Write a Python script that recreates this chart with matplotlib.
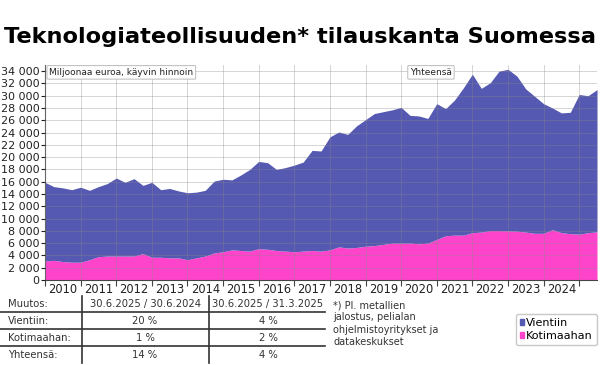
import numpy as np
import matplotlib
matplotlib.use("Agg")
import matplotlib.pyplot as plt
from matplotlib.ticker import FuncFormatter, MultipleLocator
from matplotlib.patches import Patch

# Neljännesvuosittaiset arvot (milj. euroa), 2009Q4 ... 2025Q2
vuodet = np.arange(2010.0, 2025.51, 0.25)
yhteensa = [15900, 15200, 15000, 14700, 15100, 14600, 15200, 15700, 16600, 15900,
            16500, 15400, 15900, 14700, 14900, 14500, 14200, 14300, 14600, 16100,
            16400, 16300, 17100, 18000, 19300, 19100, 18000, 18300, 18700, 19200,
            21100, 21000, 23300, 24100, 23700, 25100, 26100, 27100, 27400, 27700,
            28100, 26800, 26700, 26300, 28700, 27900, 29300, 31300, 33500, 31200,
            32100, 34000, 34300, 33200, 31100, 29900, 28700, 28000, 27200, 27300,
            30200, 30000, 31000]
kotimaahan = [3100, 3200, 3000, 2900, 2900, 3300, 3800, 3900, 3900, 3900,
              3900, 4300, 3700, 3700, 3600, 3600, 3300, 3600, 3900, 4400,
              4600, 4900, 4800, 4700, 5100, 5000, 4800, 4700, 4600, 4700,
              4800, 4700, 4900, 5400, 5200, 5300, 5500, 5600, 5800, 6000,
              6000, 6000, 5900, 6000, 6600, 7200, 7300, 7300, 7700, 7800,
              8050, 8050, 8000, 7950, 7800, 7600, 7600, 8200, 7700, 7550,
              7450, 7700, 7850]
vuosi_nimet = [str(v) for v in range(2010, 2025)]

taulukko_otsikot = ["Muutos:", "30.6.2025 / 30.6.2024", "30.6.2025 / 31.3.2025"]
taulukko_rivit = [["Vientiin:", "20 %", "4 %"],
                  ["Kotimaahan:", "1 %", "2 %"],
                  ["Yhteensä:", "14 %", "4 %"]]

sininen = "#5559b1"
pinkki = "#ff44cc"
tekstin_vari = "#333333"

plt.rcParams['font.family'] = ['DejaVu Sans']

fig = plt.figure(figsize=(6.05, 3.65), dpi=100)
ax = fig.add_axes([45/605, 1-280/365, 552/605, 215/365])

ax.fill_between(vuodet, 0, kotimaahan, color=pinkki, linewidth=0, label="Kotimaahan")
ax.fill_between(vuodet, kotimaahan, yhteensa, color=sininen, linewidth=0, label="Vientiin")

ax.set_xlim(2010, 2025.5)
ax.set_ylim(0, 35000)
ax.yaxis.set_major_locator(MultipleLocator(2000))
ax.yaxis.set_major_formatter(FuncFormatter(lambda v, p: f"{int(v):,}".replace(",", " ")))
ax.set_xticks(np.arange(2010, 2026))
ax.set_xticklabels([])
ax.set_xticks(np.arange(2010.5, 2025), minor=True)
ax.set_xticklabels(vuosi_nimet, minor=True)
ax.tick_params(axis='x', which='minor', length=0, labelsize=8.3, pad=2, colors='#222222')
ax.tick_params(axis='x', which='major', length=4, color='#444444')
ax.tick_params(axis='y', length=3, labelsize=8, pad=1, colors='#222222')

ax.grid(True, which='major', color='#888888', linewidth=0.6, alpha=0.4)
ax.set_axisbelow(False)
for s in ['top', 'right']:
    ax.spines[s].set_visible(False)
ax.spines['left'].set_color('#555555')
ax.spines['bottom'].set_color('#444444')

laatikko = dict(facecolor='white', edgecolor='#bbbbbb', boxstyle='round,pad=0.25,rounding_size=0.1', linewidth=0.7)
ax.text(2010.12, 33800, "Miljoonaa euroa, käyvin hinnoin", fontsize=6.5, va='center', ha='left',
        color='#222222', bbox=laatikko)
ax.text(2020.25, 33800, "Yhteensä", fontsize=6.5, va='center', ha='left', color='#222222', bbox=laatikko)

fig.text(4/605, 1-37/365, "Teknologiateollisuuden* tilauskanta Suomessa", fontsize=16.2,
         fontweight='bold', va='center', ha='left', color='black')

# taulukko ja alaviite
t = fig.add_axes([0, 0, 1, 1])
t.set_xlim(0, 605)
t.set_ylim(365, 0)
t.axis('off')
rivi_y = [304, 321, 338, 355]
sarake_x = [8, 145, 268]
for j, teksti in enumerate(taulukko_otsikot):
    t.text(sarake_x[j], rivi_y[0], teksti, fontsize=7.2, va='center',
           ha='left' if j == 0 else 'center', color=tekstin_vari)
for i, rivi in enumerate(taulukko_rivit):
    for j, teksti in enumerate(rivi):
        t.text(sarake_x[j], rivi_y[i + 1], teksti, fontsize=7.2, va='center',
               ha='left' if j == 0 else 'center', color=tekstin_vari)
for yy in [312, 329, 346]:
    t.plot([0, 325], [yy, yy], color='#333333', linewidth=1.2)
for xx in [82, 209]:
    t.plot([xx, xx], [296, 363], color='#333333', linewidth=1.2)

t.text(333, 300, "*) Pl. metallien\njalostus, pelialan\nohjelmistoyritykset ja\ndatakeskukset",
       fontsize=7, va='top', ha='left', color=tekstin_vari, linespacing=1.3)

kahvat = [Patch(color=sininen, label="Vientiin"), Patch(color=pinkki, label="Kotimaahan")]
fig.legend(handles=kahvat, loc='upper right', bbox_to_anchor=(597/605, 1-314/365), fontsize=8,
           handlelength=0.4, handleheight=0.4, handletextpad=0.2, borderpad=0.35, labelspacing=0.3,
           frameon=True, edgecolor='#bbbbbb', fancybox=True, borderaxespad=0)

fig.savefig("out.png", dpi=100)
